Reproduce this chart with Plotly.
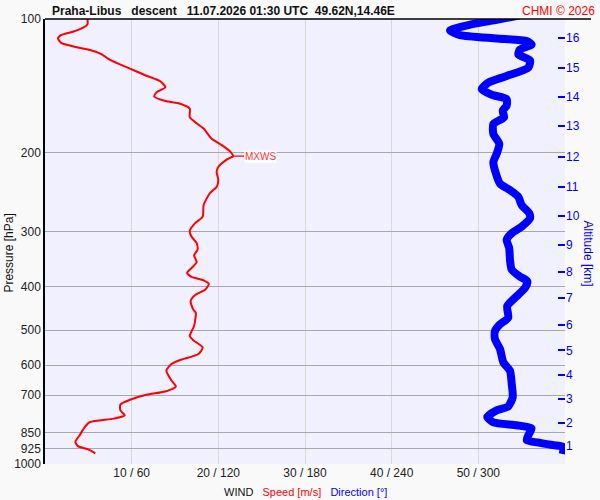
import math
import plotly.graph_objects as go

# ---- data ----
speed_p = [100, 102.8, 104.6, 106.7, 108.6, 110.6, 113.3, 115.3, 117.4, 119.9, 123.6, 128.8, 134.1, 138.0,
           142.3, 146.0, 149.3, 152.9, 155.0, 159.0, 166.1, 170.4, 176.3, 185.6, 192.1, 198.8, 203.3, 206.8,
           215.1, 220.7, 230.3, 238.4, 246.7, 261.9, 278.1, 287.9, 299.3, 308.2, 319.0, 330.0, 339.9, 351.8,
           362.8, 372.2, 379.9, 386.5, 393.9, 405.4, 417.4, 430.5, 449.3, 457.1, 489.5, 515.3, 526.8, 547.2,
           566.1, 583.9, 596.0, 617.0, 649.4, 669.8, 686.2, 699.0, 717.3, 734.8, 757.8, 777.5, 790.7, 804.6,
           825.5, 861.6, 891.7, 911.7, 927.2, 946.5]
speed_ms = [4.9, 4.9, 4.4, 3.3, 1.9, 1.5, 1.9, 3.3, 5.2, 6.5, 7.5, 9.6, 11.7, 13.3,
            13.9, 12.9, 12.6, 13.9, 15.6, 16.7, 16.7, 17.3, 18.3, 19.2, 20.4, 21.4, 21.7, 21.0,
            20.0, 19.8, 20.0, 19.8, 19.0, 18.3, 18.2, 17.3, 16.7, 16.9, 17.5, 17.6, 17.2, 17.5,
            16.9, 16.4, 16.9, 18.3, 18.9, 18.5, 17.3, 16.8, 17.1, 17.4, 17.2, 16.7, 17.1, 18.2,
            17.7, 15.6, 14.6, 14.0, 14.6, 15.1, 14.0, 11.7, 9.8, 8.7, 8.7, 9.2, 7.9, 5.2,
            4.6, 4.0, 3.5, 3.8, 5.0, 5.8]

dir_p = [98.1, 100.4, 103.0, 106.2, 108.7, 110.6, 112.1, 114.1, 117.1, 120.1, 123.9, 128.6, 134.3, 139.0,
         143.8, 148.0, 151.4, 156.6, 160.7, 166.3, 172.2, 181.3, 190.8, 200.9, 209.7, 222.6, 234.4, 242.4,
         250.9, 261.9, 273.4, 280.5, 292.8, 303.0, 313.5, 327.3, 347.4, 365.8, 378.5, 388.5, 402.2, 419.6,
         441.7, 469.1, 485.2, 502.2, 524.1, 551.6, 591.1, 617.0, 660.6, 707.6, 742.2, 757.8, 784.2, 805.9,
         818.3, 832.3, 861.6, 884.0, 896.5, 907.1, 915.0, 950.0]
dir_deg = [328.8, 312.7, 294.2, 280.4, 287.3, 312.7, 333.5, 336.9, 328.8, 327.7, 335.8, 334.6, 319.6, 306.9,
           302.3, 309.3, 319.6, 319.6, 316.9, 317.8, 310.4, 310.4, 314.5, 312.7, 310.4, 312.2, 315.0, 321.9,
           327.7, 330.0, 335.3, 335.8, 330.0, 323.1, 319.6, 321.4, 321.9, 323.1, 328.4, 333.9, 332.3, 326.6,
           320.0, 320.7, 315.0, 311.5, 311.5, 315.0, 317.3, 321.9, 323.1, 323.8, 320.7, 312.7, 306.2, 310.4,
           326.6, 336.9, 334.6, 333.5, 342.7, 351.9, 358.8, 358.4]

pressure_ticks = [100, 200, 300, 400, 500, 600, 700, 850, 925, 1000]
speed_ticks = [10, 20, 30, 40, 50, 60]
speed_ticklabels = ["10 / 60", "20 / 120", "30 / 180", "40 / 240", "50 / 300", ""]
alt_km = [1, 2, 3, 4, 5, 6, 7, 8, 9, 10, 11, 12, 13, 14, 15, 16]
alt_p = [910.4, 808.7, 714.9, 631.9, 555.7, 486.2, 423.9, 370.3, 322.3, 276.7, 238.4, 204.3, 174.2,
         149.6, 128.8, 110.3]

FONT = "Liberation Sans, Arial, sans-serif"
imax = max(range(len(speed_ms)), key=lambda i: speed_ms[i])
mx_speed = speed_ms[imax]
mx_logp = math.log10(speed_p[imax])

fig = go.Figure()
fig.add_trace(go.Scatter(x=speed_ms, y=speed_p, mode="lines", xaxis="x", yaxis="y",
                         line=dict(color="#ff0000", width=2, shape="spline", smoothing=0.6),
                         hoverinfo="skip", showlegend=False))
fig.add_trace(go.Scatter(x=dir_deg, y=dir_p, mode="lines", xaxis="x2", yaxis="y2",
                         line=dict(color="#0000ff", width=8, shape="spline", smoothing=0.6),
                         hoverinfo="skip", showlegend=False))

fig.update_layout(
    width=600, height=500,
    margin=dict(l=45, r=35, t=16, b=36),
    paper_bgcolor="#f9f9f9", plot_bgcolor="#f0f0ff",
    font=dict(family=FONT, size=12, color="#222222"),
    xaxis=dict(range=[0, 60], tickvals=speed_ticks, ticktext=speed_ticklabels,
               showgrid=True, gridcolor="#d8d8d8", gridwidth=1, zeroline=False,
               showline=False, ticks="", tickfont=dict(size=12, color="#222222")),
    xaxis2=dict(range=[0, 360], overlaying="x", visible=False),
    yaxis=dict(type="log", range=[3, 2], tickvals=pressure_ticks,
               ticktext=[str(v) for v in pressure_ticks],
               showgrid=True, gridcolor="#a8a8a8", gridwidth=1, zeroline=False,
               showline=True, linecolor="#000000", linewidth=1.5, ticks="",
               tickfont=dict(size=12, color="#222222")),
    yaxis2=dict(type="log", range=[3, 2], overlaying="y", side="right",
                tickvals=alt_p, ticktext=[str(v) for v in alt_km],
                showgrid=False, zeroline=False, showline=False,
                ticks="inside", ticklen=7, tickwidth=1.5, tickcolor="#0000ff",
                tickfont=dict(size=12, color="#0000ff")),
    shapes=[
        dict(type="line", xref="paper", yref="paper", x0=0, x1=1.05, y0=1, y1=1,
             line=dict(color="#000000", width=1.5)),
        dict(type="line", xref="paper", yref="y", x0=-0.015, x1=0.021, y0=mx_logp, y1=mx_logp,
             line=dict(color="#ff0000", width=1.5)),
        dict(type="line", xref="paper", yref="y", x0=0.98, x1=1.0, y0=mx_logp, y1=mx_logp,
             line=dict(color="#ff0000", width=1.5)),
    ],
    annotations=[
        dict(x=mx_speed, y=mx_logp, xref="x", yref="y", text="MXWS", showarrow=True,
             arrowhead=0, arrowwidth=1.2, arrowcolor="#ff0000", ax=27, ay=0,
             font=dict(size=10, color="#ff3030"), bgcolor="#ffffff", borderpad=0),
        dict(x=0.0096, y=1.0, xref="paper", yref="paper", xanchor="left", yanchor="bottom", yshift=-1,
             text="<b>Praha-Libus&nbsp;&nbsp; descent&nbsp;&nbsp; 11.07.2026 01:30 UTC&nbsp; 49.62N,14.46E</b>",
             showarrow=False, font=dict(size=12, color="#111111")),
        dict(x=1.0615, y=1.0, xref="paper", yref="paper", xanchor="right", yanchor="bottom", yshift=-1,
             text="CHMI © 2026", showarrow=False, font=dict(size=12, color="#ff0000")),
        dict(x=0.5, y=-0.0625, xref="paper", yref="paper", xanchor="center", yanchor="middle",
             text="WIND&nbsp;&nbsp; <span style='color:#ff0000'>Speed [m/s]</span>&nbsp;&nbsp; "
                  "<span style='color:#0000ff'>Direction [°]</span>",
             showarrow=False, font=dict(size=11, color="#111111")),
        dict(x=-0.071, y=0.473, xref="paper", yref="paper", xanchor="center", yanchor="middle",
             text="Pressure [hPa]", textangle=-90, showarrow=False,
             font=dict(size=12, color="#111111")),
        dict(x=1.046, y=0.473, xref="paper", yref="paper", xanchor="center", yanchor="middle",
             text="Altitude [km]", textangle=90, showarrow=False,
             font=dict(size=12, color="#0000ff")),
    ],
)

fig.write_html("out.html", config={"displayModeBar": False},
               post_script="document.body.style.margin='0';document.body.style.padding='0';")
